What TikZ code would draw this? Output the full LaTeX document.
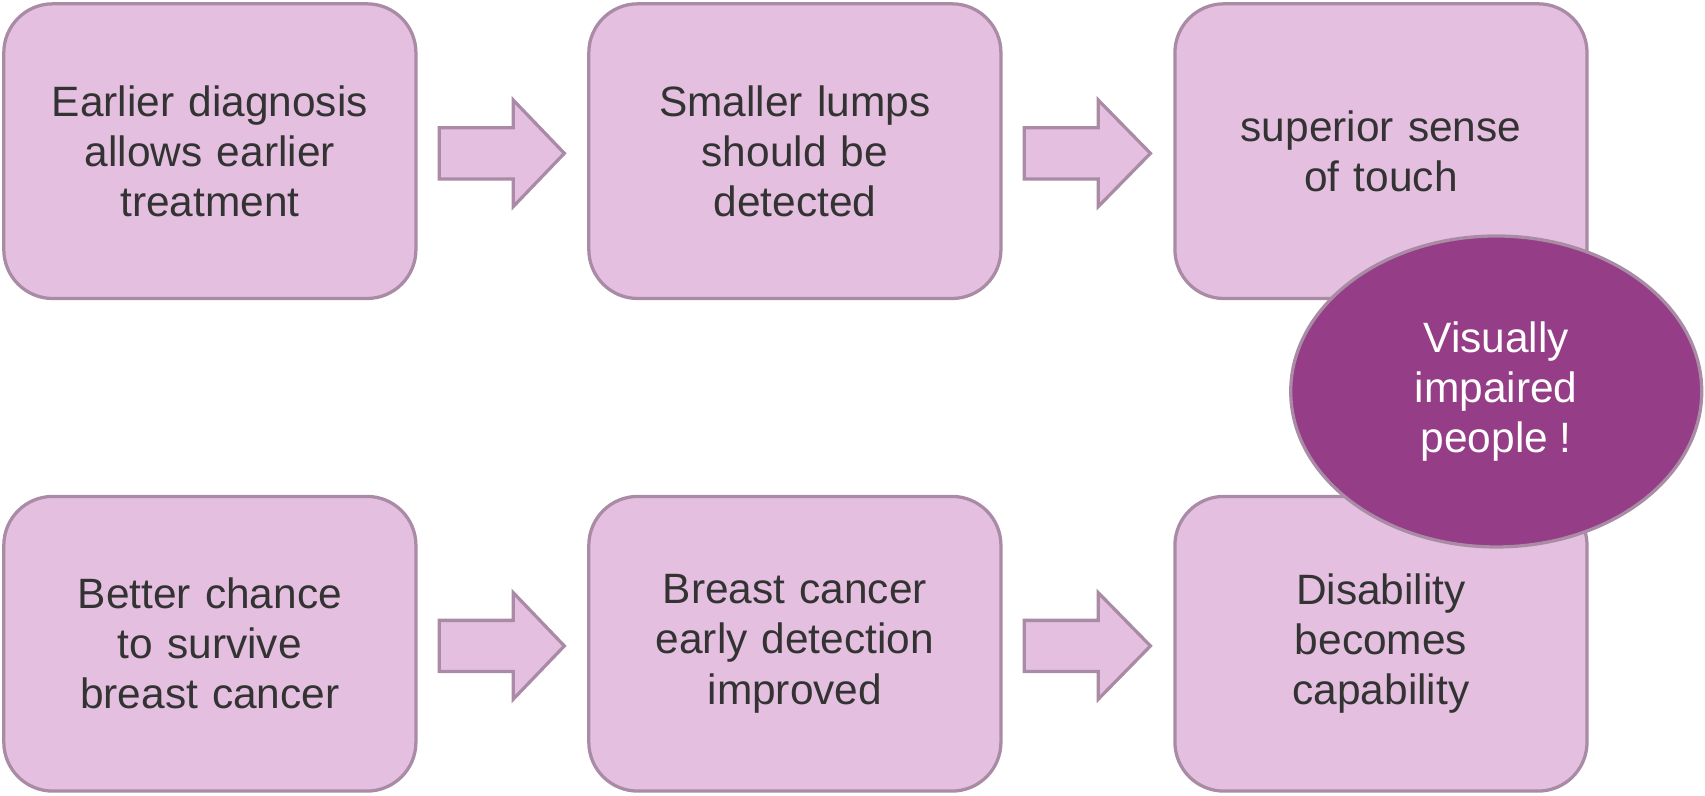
\documentclass[tikz,border=0pt]{standalone}
\usepackage{fontspec}
\setmainfont{Liberation Sans}
\usepackage{tikz}
\usetikzlibrary{positioning,calc,shapes.geometric}
\definecolor{boxfill}{HTML}{E4BFDF}
\definecolor{boxline}{HTML}{A98BA6}
\definecolor{plum}{HTML}{963D88}
\definecolor{ink}{HTML}{333333}
\tikzset{main box/.style={rectangle,rounded corners=0.45cm,fill=boxfill,draw=boxline,line width=0.03cm,
            minimum width=3.79cm,minimum height=2.71cm,text width=3.4cm,align=center,text=ink,
            font=\fontsize{11.1}{13.1}\selectfont},
         block arrow/.style={fill=boxfill,draw=boxline,line width=0.03cm,line join=miter},
         big oval/.style={ellipse,fill=plum,draw=boxline,line width=0.03cm,minimum width=3.78cm,
            minimum height=2.86cm,inner sep=0pt,align=center,text=white,
            font=\fontsize{11.1}{13.1}\selectfont},
            }
\begin{document}
\begin{tikzpicture}
    \useasboundingbox (0,0) rectangle (15.68,-7.32);
    \node[main box] (diag) at (1.93,-1.39) {Earlier diagnosis\\allows earlier\\treatment};
    \node[main box] (lumps) [right =1.56cm of diag] {Smaller lumps\\should be\\detected};
    \node[main box] (touch) [right =1.57cm of lumps] {superior sense\\of touch};
    \node[main box] (survive) [below =1.79cm of diag] {Better chance\\to survive\\breast cancer};
    \node[main box] (detect) [below =1.79cm of lumps] {Breast cancer\\early detection\\improved};
    \node[main box] (ability) [below =1.79cm of touch] {Disability\\becomes\\capability};

    \foreach \a/\b in {diag/lumps, lumps/touch, survive/detect, detect/ability}
        \draw[block arrow] ($(\a.east)+(0.2,0.215)$) -- ($(\a.east)+(0.88,0.215)$)
            -- ($(\a.east)+(0.88,0.47)$) -- ($(\b.west)+(-0.21,-0.02)$)
            -- ($(\a.east)+(0.88,-0.51)$) -- ($(\a.east)+(0.88,-0.255)$)
            -- ($(\a.east)+(0.2,-0.255)$) -- cycle;

    \node[big oval] (people) at (13.76,-3.60) {Visually\\impaired\\people !};
    %%
\end{tikzpicture}
\end{document}
